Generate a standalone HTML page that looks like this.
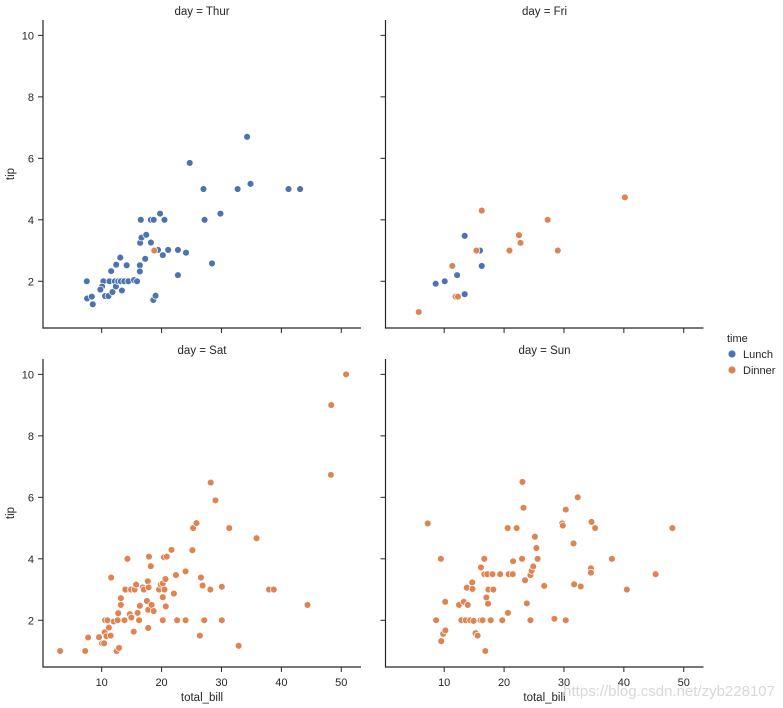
<!DOCTYPE html>
<html><head><meta charset="utf-8"><style>
body{margin:0;background:#fff;}
svg{display:block;font-family:"Liberation Sans",sans-serif;}
</style></head><body>
<svg id="c" width="783" height="708"></svg>
<script>
const facetTitles = ["day = Thur","day = Fri","day = Sat","day = Sun"];
const xTicks = [10,20,30,40,50];
const yTicks = [2,4,6,8,10];
const thurLunchX = [7.51,7.56,8.35,8.51,10.28,10.07,9.78,10.56,11.13,11.3,11.58,11.8,12.2,12.37,12.42,12.76,13.1,13.2,13.38,13.77,14.17,14.45,15.4,15.9,16.37,16.37,16.42,16.53,16.64,17.27,17.44,18.22,18.22,18.68,18.62,19.0,19.4,19.75,20.2,20.48,21.1,22.73,22.73,24.08,24.7,27.0,27.18,28.42,29.83,32.7,34.28,34.85,41.2,43.13];
const thurLunchY = [2.0,1.44,1.5,1.25,2.0,1.83,1.73,1.52,1.52,2.0,2.33,1.65,2.0,1.83,2.54,2.0,2.77,2.0,1.7,2.0,2.52,2.0,2.04,2.0,2.52,2.32,3.25,4.0,3.42,2.73,3.51,3.26,4.0,4.0,1.39,1.53,3.02,4.2,2.85,4.0,3.02,3.02,2.2,2.93,5.85,5.0,4.0,2.58,4.2,5.0,6.7,5.17,5.0,5.0];
const thurDinnerX = [18.78];
const thurDinnerY = [3.0];
const friLunchX = [8.58,10.09,12.16,13.42,13.42,15.98,16.27];
const friLunchY = [1.92,2.0,2.2,1.58,3.48,3.0,2.5];
const friDinnerX = [5.75,11.35,11.9,12.3,15.38,16.27,20.9,22.49,22.75,27.28,28.97,40.17];
const friDinnerY = [1.0,2.5,1.5,1.5,3.0,4.3,3.0,3.5,3.25,4.0,3.0,4.73];
const satDinnerX = [3.07,7.25,7.74,9.55,10.07,10.4,10.56,10.96,10.5,10.8,11.2,11.5,11.58,12.0,12.5,12.9,12.65,12.76,13.2,13.2,13.8,13.94,14.3,14.7,14.96,14.9,15.35,15.5,15.75,16.0,16.25,16.37,16.87,17.04,17.55,17.7,17.77,17.77,17.83,17.9,18.2,18.34,18.68,19.58,19.86,20.2,20.2,20.2,20.4,20.48,20.65,20.7,20.87,21.66,22.06,22.4,22.6,24.0,24.0,25.15,25.27,25.83,26.4,26.57,26.85,27.13,28.14,28.2,29.0,30.06,30.06,31.3,32.87,35.86,37.94,38.73,44.37,48.27,48.33,50.81];
const satDinnerY = [1.0,1.0,1.44,1.45,1.25,1.25,2.0,2.0,1.61,1.48,1.76,1.5,3.39,1.96,1.0,1.1,2.0,2.23,2.5,2.72,2.0,3.0,4.0,2.2,2.09,3.0,1.63,3.0,3.16,2.24,2.0,2.47,3.07,3.0,2.63,3.27,2.34,1.75,3.07,4.07,3.76,2.5,2.3,3.0,3.16,3.2,2.75,2.0,4.05,3.0,3.34,2.45,4.07,4.29,2.87,3.47,2.0,3.59,2.0,4.28,5.0,5.16,1.5,3.39,3.13,2.0,3.0,6.48,5.9,3.09,2.0,5.0,1.17,4.67,3.0,3.0,2.5,6.73,9.0,10.0];
const sunDinnerX = [7.25,8.65,9.44,9.5,9.83,10.17,10.2,12.48,12.87,13.27,13.6,13.77,13.94,14.34,14.68,14.73,14.9,15.24,15.58,16.08,16.14,16.4,16.7,16.87,17.04,16.7,17.2,17.32,17.38,17.77,18.06,18.2,19.35,19.7,20.65,20.6,20.76,21.44,21.5,22.1,23.0,23.07,23.24,23.5,23.8,24.4,24.4,24.6,24.87,25.15,25.4,25.6,26.7,28.4,29.7,29.8,30.3,30.3,31.6,31.7,32.3,32.8,34.5,34.5,34.6,35.2,38.0,40.5,45.3,48.1];
const sunDinnerY = [5.15,2.0,4.0,1.32,1.56,2.6,1.67,2.5,2.0,2.6,2.0,3.06,2.5,2.0,3.23,3.02,1.98,1.58,1.5,2.0,3.72,2.0,4.0,1.0,2.74,3.5,3.5,2.54,3.0,2.0,3.5,3.0,3.5,2.0,2.24,5.0,3.5,3.5,3.92,5.0,4.0,6.5,5.66,3.3,2.55,2.0,3.47,3.61,3.75,4.72,4.35,4.0,3.12,2.05,5.15,5.08,5.6,2.0,4.5,3.17,6.0,3.1,3.69,3.55,5.2,5.0,4.0,3.0,3.5,5.0];

const BLUE="#4c72b0", ORANGE="#dd8452";
const NS="http://www.w3.org/2000/svg";
const svg=document.getElementById('c');
function mk(tag,attrs,parent){const e=document.createElementNS(NS,tag);for(const k in attrs)e.setAttribute(k,attrs[k]);(parent||svg).appendChild(e);return e;}
const X0=0.2,X1=53.3,Y0=0.48,Y1=10.5,W=318,H=308;
const panels=[
 {l:43,t:20,title:facetTitles[0],series:[[thurLunchX,thurLunchY,BLUE,'lunch'],[thurDinnerX,thurDinnerY,ORANGE,'dinner']],yl:true,xl:false},
 {l:385.5,t:20,title:facetTitles[1],series:[[friLunchX,friLunchY,BLUE,'lunch'],[friDinnerX,friDinnerY,ORANGE,'dinner']],yl:false,xl:false},
 {l:43,t:359,title:facetTitles[2],series:[[satDinnerX,satDinnerY,ORANGE,'dinner']],yl:true,xl:true},
 {l:385.5,t:359,title:facetTitles[3],series:[[sunDinnerX,sunDinnerY,ORANGE,'dinner']],yl:false,xl:true}
];
panels.forEach((p,pi)=>{
  const g=mk('g',{});
  
  
  const sx=v=>p.l+(v-X0)/(X1-X0)*W;
  const sy=v=>p.t+H-(v-Y0)/(Y1-Y0)*H;
  const tt=mk('text',{x:p.l+W/2,y:p.t-5,'text-anchor':'middle','font-size':'11.5',fill:'#262626'},g);
  tt.textContent=p.title;
  
  
  const ax=mk('path',{d:`M${p.l},${p.t}V${p.t+H}H${p.l+W}`,stroke:'#262626','stroke-width':1.2,fill:'none'},g);
  
  
  xTicks.forEach(v=>{
    const x=sx(v);
    mk('line',{x1:x,x2:x,y1:p.t+H,y2:p.t+H+5,stroke:'#262626','stroke-width':1},g);
    if(p.xl){const t=mk('text',{x:x,y:p.t+H+19,'text-anchor':'middle','font-size':'11',fill:'#262626'},g);t.textContent=v;
      
      }
  });
  yTicks.forEach(v=>{
    const y=sy(v);
    mk('line',{x1:p.l-5,x2:p.l,y1:y,y2:y,stroke:'#262626','stroke-width':1},g);
    if(p.yl){const t=mk('text',{x:p.l-9,y:y+4,'text-anchor':'end','font-size':'11',fill:'#262626'},g);t.textContent=v;
      
      }
  });
  if(p.xl){const t=mk('text',{x:p.l+W/2,y:p.t+H+34,'text-anchor':'middle','font-size':'11.5',fill:'#262626'},g);t.textContent='total_bill';
    
    }
  if(p.yl){const cy=p.t+H/2;const t=mk('text',{x:14,y:cy,'text-anchor':'middle','font-size':'11.5',fill:'#262626',transform:`rotate(-90 14 ${cy})`},g);t.textContent='tip';
    
    }
  p.series.forEach(s=>{
    s[0].forEach((xv,i)=>{
      const c=mk('circle',{cx:sx(xv),cy:sy(s[1][i]),r:3.4,fill:s[2],stroke:'#fff','stroke-width':0.7},g);
      
      
    });
  });
});
const lg=mk('g',{});


const lt=mk('text',{x:727,y:342,'font-size':'11',fill:'#262626'},lg);lt.textContent='time';
[['Lunch',BLUE,354],['Dinner',ORANGE,370]].forEach(e=>{
  const c=mk('circle',{cx:732,cy:e[2],r:4,fill:e[1],stroke:'#fff','stroke-width':0.8},lg);
  
  
  const t=mk('text',{x:743,y:e[2]+4,'font-size':'11',fill:'#262626'},lg);t.textContent=e[0];
  
  
});
const wm=mk('text',{x:775,y:696,'text-anchor':'end','font-size':'15',fill:'#d8d8d8'});
wm.textContent='https://blog.csdn.net/zyb228107';


</script>
</body></html>
